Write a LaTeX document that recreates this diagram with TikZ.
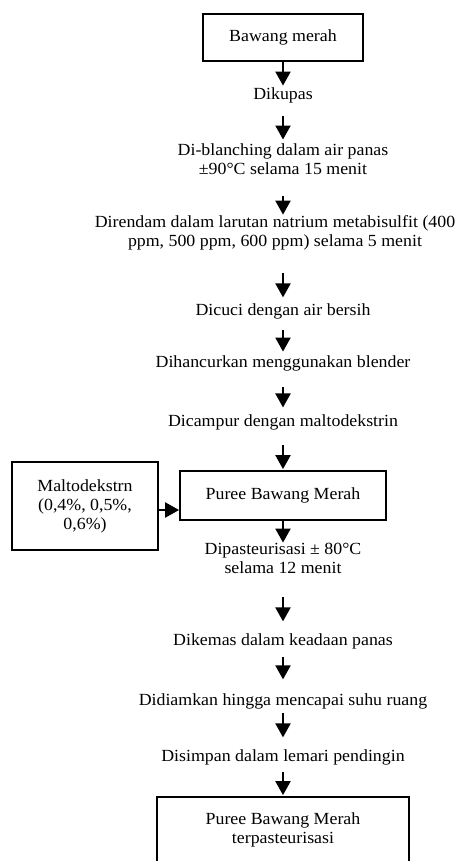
\documentclass[tikz,border=0pt]{standalone}
\usepackage{fontspec}
\setmainfont{Liberation Serif}[FakeStretch=1.05]
\usetikzlibrary{arrows.meta,positioning}
\newcommand{\flowfont}{\fontsize{17}{19}\selectfont}

\begin{document}
\begin{tikzpicture}[
    x=1pt, y=-1pt,
    box/.style={rectangle, draw, line width=1.8pt, align=center, font=\flowfont},
    proc/.style={inner sep=0pt, align=center, font=\flowfont},
    arr/.style={-{Triangle[width=15pt, length=14pt]}, line width=2.2pt}
]
\useasboundingbox (0,0) rectangle (462,861);

\node[box, minimum width=160pt, minimum height=47pt] (bawang) at (283, 37.5) {Bawang merah};
\node[proc] (kupas) at (283, 95.2) {Dikupas};
\node[proc] (blanch) at (283, 158.9) {Di-blanching dalam air panas\\±90°C selama 15 menit};
\node[proc] (rendam) at (275, 232.6) {Direndam dalam larutan natrium metabisulfit (400\\ppm, 500 ppm, 600 ppm) selama 5 menit};
\node[proc] (cuci) at (283, 311) {Dicuci dengan air bersih};
\node[proc] (hancur) at (283, 363.5) {Dihancurkan menggunakan blender};
\node[proc] (campur) at (283, 422.8) {Dicampur dengan maltodekstrin};
\node[box, minimum width=206pt, minimum height=49pt] (puree) at (283, 495.5) {Puree Bawang Merah};
\node[box, minimum width=146pt, minimum height=88pt] (malto) at (85, 506) {Maltodekstrn\\(0,4\%, 0,5\%,\\0,6\%)};
\node[proc] (pasteur) at (283, 558) {Dipasteurisasi ± 80°C\\selama 12 menit};
\node[proc] (kemas) at (283, 641) {Dikemas dalam keadaan panas};
\node[proc] (diam) at (283, 701) {Didiamkan hingga mencapai suhu ruang};
\node[proc] (simpan) at (283, 757) {Disimpan dalam lemari pendingin};
\node[box, minimum width=252pt, minimum height=66pt] (akhir) at (283, 830) {Puree Bawang Merah\\terpasteurisasi};

\draw[arr, shorten >=1.7pt] (bawang) -- (kupas);
\draw[arr, shorten <=12.4pt, shorten >=3.7pt] (kupas) -- (blanch);
\draw[arr, shorten <=21pt, shorten >=0.5pt] (blanch.south) -- (blanch.south |- rendam.north);
\draw[arr, shorten <=23.4pt, shorten >=5.7pt] (cuci.north |- rendam.south) -- (cuci.north);
\draw[arr, shorten <=11.4pt, shorten >=4pt] (cuci) -- (hancur);
\draw[arr, shorten <=16pt, shorten >=7.4pt] (hancur) -- (campur);
\draw[arr, shorten <=14.7pt, shorten >=1pt] (campur) -- (puree);
\draw[arr, transform canvas={yshift=-4pt}] (malto.east) -- (malto.east -| puree.west);
\draw[arr] (puree) -- (pasteur);
\draw[arr, shorten <=23.7pt, shorten >=11.7pt] (pasteur) -- (kemas);
\draw[arr, shorten <=8.4pt, shorten >=13.7pt] (kemas) -- (diam);
\draw[arr, shorten <=4.4pt, shorten >=11.7pt] (diam) -- (simpan);
\draw[arr, shorten <=7.4pt, shorten >=1pt] (simpan) -- (akhir);
\end{tikzpicture}
\end{document}
